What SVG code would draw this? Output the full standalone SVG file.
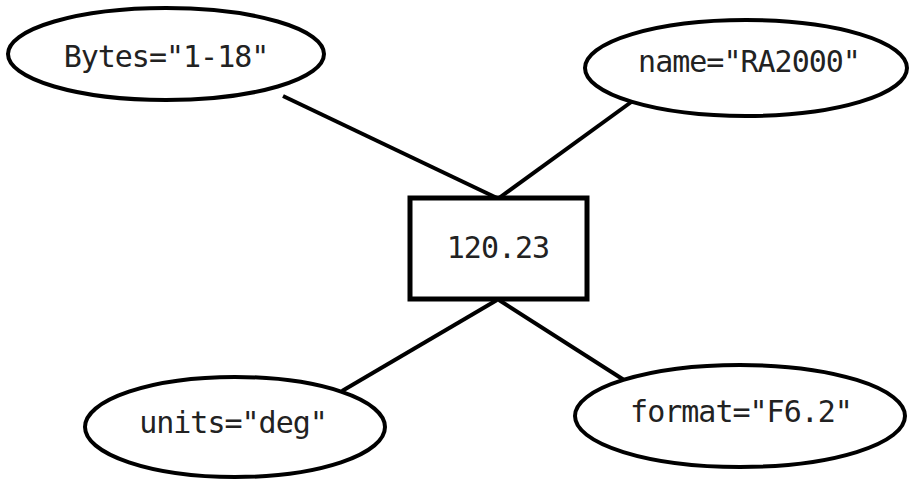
<svg xmlns="http://www.w3.org/2000/svg" width="914" height="479" viewBox="0 0 914 479">
<style>
.n{fill:#fff;stroke:#000;stroke-width:4}
.r{fill:#fff;stroke:#000;stroke-width:5}
.t{font-family:"DejaVu Sans Mono",monospace;font-size:30px;letter-spacing:-1px;fill:#222;text-anchor:middle}
.c line{stroke:#000;stroke-width:4}
</style>
<rect width="914" height="479" fill="#fff"/>
<g id="connectors" class="c">
<line x1="283" y1="96" x2="497" y2="198"/>
<line x1="634" y1="100" x2="499" y2="198"/>
<line x1="497" y1="300" x2="342" y2="391"/>
<line x1="499" y1="300" x2="624" y2="380"/>
</g>
<g id="n-bytes"><ellipse class="n" cx="166" cy="54" rx="158" ry="46"/><text class="t" x="166" y="67">Bytes="1-18"</text></g>
<g id="n-name"><ellipse class="n" cx="746" cy="68" rx="161" ry="48"/><text class="t" x="749" y="72">name="RA2000"</text></g>
<g id="n-value"><rect class="r" x="410" y="198" width="177" height="101"/><text class="t" x="498" y="258">120.23</text></g>
<g id="n-units"><ellipse class="n" cx="235" cy="427" rx="150" ry="50"/><text class="t" x="233" y="433">units="deg"</text></g>
<g id="n-format"><ellipse class="n" cx="740" cy="416" rx="165" ry="51"/><text class="t" x="741" y="422">format="F6.2"</text></g>
</svg>
